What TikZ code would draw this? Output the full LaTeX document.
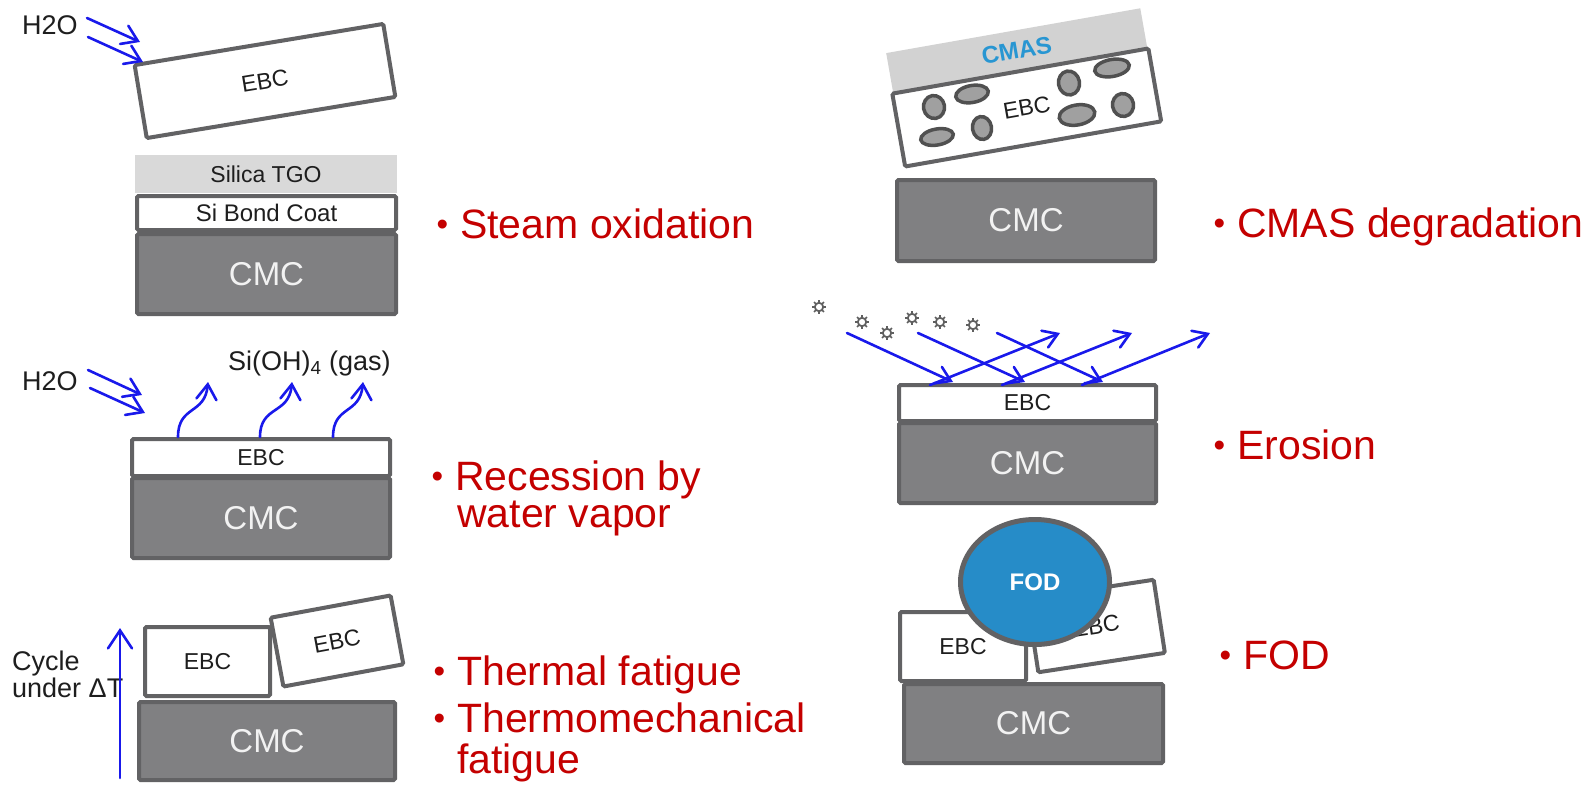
\documentclass[tikz,border=0pt]{standalone}
\usepackage{fontspec}
\setmainfont{Liberation Sans}
\usetikzlibrary{arrows.meta,shapes.geometric,calc}
\definecolor{cmcfill}{RGB}{128,128,130}
\definecolor{bordergray}{RGB}{98,98,100}
\definecolor{tgogray}{RGB}{217,217,217}
\definecolor{cmasgray}{RGB}{210,210,210}
\definecolor{porefill}{RGB}{160,160,160}
\definecolor{poreborder}{RGB}{80,80,80}
\definecolor{arrowblue}{RGB}{25,25,235}
\definecolor{fodblue}{RGB}{38,140,200}
\definecolor{cmasblue}{RGB}{40,150,210}
\definecolor{labelred}{RGB}{196,0,0}
\definecolor{textdark}{RGB}{30,30,30}
\definecolor{cmctext}{RGB}{242,242,242}
\definecolor{particlegray}{RGB}{95,95,95}
\newcommand\bitem{\llap{\raisebox{3pt}{\fontsize{33}{33}\selectfont\textbullet}\hspace{12pt}}}
\begin{document}
\begin{tikzpicture}[x=1pt,y=-1pt,
  layer/.style={draw=bordergray, line width=4pt, rounded corners=1.5pt, inner sep=0pt,
    font=\fontsize{23}{23}\selectfont, text=textdark},
  ebcbox/.style={layer, fill=white},
  cmcbox/.style={layer, fill=cmcfill, text=cmctext, font=\fontsize{33}{33}\selectfont},
  tgo/.style={fill=tgogray, inner sep=0pt, text=textdark, font=\fontsize{23}{23}\selectfont},
  cmaslayer/.style={fill=cmasgray, inner sep=0pt, text=cmasblue, font=\bfseries\fontsize{24}{24}\selectfont},
  blarrow/.style={draw=arrowblue, line width=2.6pt, line cap=round,
    -{Straight Barb[length=15pt,width=20pt,line cap=round]}},
  smallarrow/.style={blarrow, -{Straight Barb[length=14pt,width=18pt,line cap=round]}},
  redlabel/.style={anchor=base west, text=labelred, font=\fontsize{41}{41}\selectfont, inner sep=0pt},
  smalltext/.style={anchor=base west, text=textdark, font=\fontsize{27}{27}\selectfont, inner sep=0pt},
  pore/.style={draw=poreborder, fill=porefill, line width=3.5pt},
  fodball/.style={ellipse, draw=bordergray, line width=5pt, fill=fodblue, text=white,
    inner sep=0pt, font=\bfseries\fontsize{24}{24}\selectfont},
  particle/.pic={
    \draw[particlegray, line width=1.8pt] (0,0) circle (4.2);
    \foreach \a in {0,45,...,315} \draw[particlegray, line width=1.6pt] (\a:4.2) -- (\a:7);
  }
]
\fill[white] (0,0) rectangle (1592,792);
\useasboundingbox (0,0) rectangle (1592,792);

% ---------- Panel 1: steam oxidation ----------
\node[tgo, minimum width=262, minimum height=38] (tgo1) at (266,174) {Silica TGO};
\node[ebcbox, minimum width=259, minimum height=34, font=\fontsize{24}{24}\selectfont] (bond1) at (266.5,213) {Si Bond Coat};
\node[cmcbox, minimum width=259, minimum height=80] (cmc1) at (266.5,274) {CMC};
\node[ebcbox, minimum width=252, minimum height=74, rotate=9.4] (ebc1) at (265,81) {EBC};
\node[smalltext] (h2oA) at (22,35) {H2O};
\coordinate (a1s) at (87,18);  \coordinate (a1e) at (140,42);
\coordinate (a2s) at (88,37);  \coordinate (a2e) at (143,62);
\draw[blarrow] (a1s) -- (a1e);
\draw[blarrow] (a2s) -- (a2e);
\node[redlabel] (lab1) at (460,238) {\bitem Steam oxidation};

% ---------- Panel 2: recession ----------
\node[ebcbox, minimum width=258, minimum height=37] (ebc2) at (261,457.5) {EBC};
\node[cmcbox, minimum width=258, minimum height=80] (cmc2) at (261,518) {CMC};
\node[smalltext] (h2oB) at (22,390) {H2O};
\coordinate (b1s) at (88,370);  \coordinate (b1e) at (142,395);
\coordinate (b2s) at (90,388);  \coordinate (b2e) at (145,413);
\draw[blarrow] (b1s) -- (b1e);
\draw[blarrow] (b2s) -- (b2e);
\node[smalltext] (sioh) at (228,370) {Si(OH)\textsubscript{4} (gas)};
\foreach \i/\xs/\xe in {1/178/208, 2/260/292, 3/333/363}{
  \coordinate (c\i s) at (\xs,437);
  \coordinate (c\i e) at (\xe,382);
  \coordinate (c\i a) at (\xs,405);
  \coordinate (c\i b) at ({\xe-3},415);
  \draw[blarrow] (c\i s) .. controls (c\i a) and (c\i b) .. (c\i e);
}
\node[redlabel] (lab2a) at (455,490) {\bitem Recession by};
\node[redlabel] (lab2b) at (457,527) {water vapor};

% ---------- Panel 3: thermal fatigue ----------
\node[cmcbox, minimum width=256, minimum height=78] (cmc3) at (267,741) {CMC};
\node[ebcbox, minimum width=125, minimum height=69] (ebc3a) at (207.5,661.5) {EBC};
\node[ebcbox, minimum width=122, minimum height=70, rotate=10.5] (ebc3b) at (337,641) {EBC};
\node[smalltext] (cyc1) at (12,670) {Cycle};
\node[smalltext] (cyc2) at (12,697) {under ΔT};
\coordinate (ups) at (120,778); \coordinate (upe) at (120,628);
\draw[blarrow, -{Straight Barb[length=18pt,width=24pt,line cap=round]}] (ups) -- (upe);
\node[redlabel] (lab3a) at (457,685) {\bitem Thermal fatigue};
\node[redlabel] (lab3b) at (457,732) {\bitem Thermomechanical};
\node[redlabel] (lab3c) at (457,773) {fatigue};

% ---------- Panel 4: CMAS ----------
\node[cmaslayer, minimum width=258, minimum height=40, rotate=10] (cmas) at (1016.7,50.4) {CMAS};
\node[ebcbox, minimum width=260, minimum height=74, rotate=10] (ebc4) at (1026.75,107.5) {EBC};
\foreach \px/\py/\rx/\ry in {934/107/10.5/11.5, 972/94/16.5/8.5, 937/137/16.5/8, 982/128/9.5/11.5,
    1069/83/10.5/12, 1112/68/17.5/8.5, 1077/115/18/10, 1123/105/10.5/11.5}{
  \draw[pore, rotate around={10:(\px,\py)}] (\px,\py) ellipse ({\rx} and {\ry});
}
\node[cmcbox, minimum width=258, minimum height=81] (cmc4) at (1026,220.5) {CMC};
\node[redlabel] (lab4) at (1237,237) {\bitem CMAS degradation};

% ---------- Panel 5: erosion ----------
\node[ebcbox, minimum width=257, minimum height=36] (ebc5) at (1027.5,403) {EBC};
\node[cmcbox, minimum width=257, minimum height=80] (cmc5) at (1027.5,463) {CMC};
\foreach \px/\py in {819/307, 862/322, 887/333, 912/318, 940/322, 973/325}{
  \pic at (\px,\py) {particle};
}
\foreach \i/\xs/\xe in {1/847/953, 2/918/1025, 3/997/1103}{
  \coordinate (in\i s) at (\xs,333); \coordinate (in\i e) at (\xe,382);
  \draw[smallarrow] (in\i s) -- (in\i e);
}
\foreach \i/\xs/\xe in {1/930/1060, 2/1002/1132, 3/1082/1210}{
  \coordinate (out\i s) at (\xs,385); \coordinate (out\i e) at (\xe,333);
  \draw[smallarrow] (out\i s) -- (out\i e);
}
\node[redlabel] (lab5) at (1237,459) {\bitem Erosion};

% ---------- Panel 6: FOD ----------
\node[cmcbox, minimum width=259, minimum height=79] (cmc6) at (1033.5,723.5) {CMC};
\node[ebcbox, minimum width=126, minimum height=69] (ebc6a) at (963,646.5) {EBC};
\node[ebcbox, minimum width=128, minimum height=74, rotate=8.7] (ebc6b) at (1096,626) {EBC};
\node[fodball, minimum width=149, minimum height=125] (fod) at (1035,582) {FOD};
\node[redlabel] (lab6) at (1243,669) {\bitem FOD};
\end{tikzpicture}
\end{document}
